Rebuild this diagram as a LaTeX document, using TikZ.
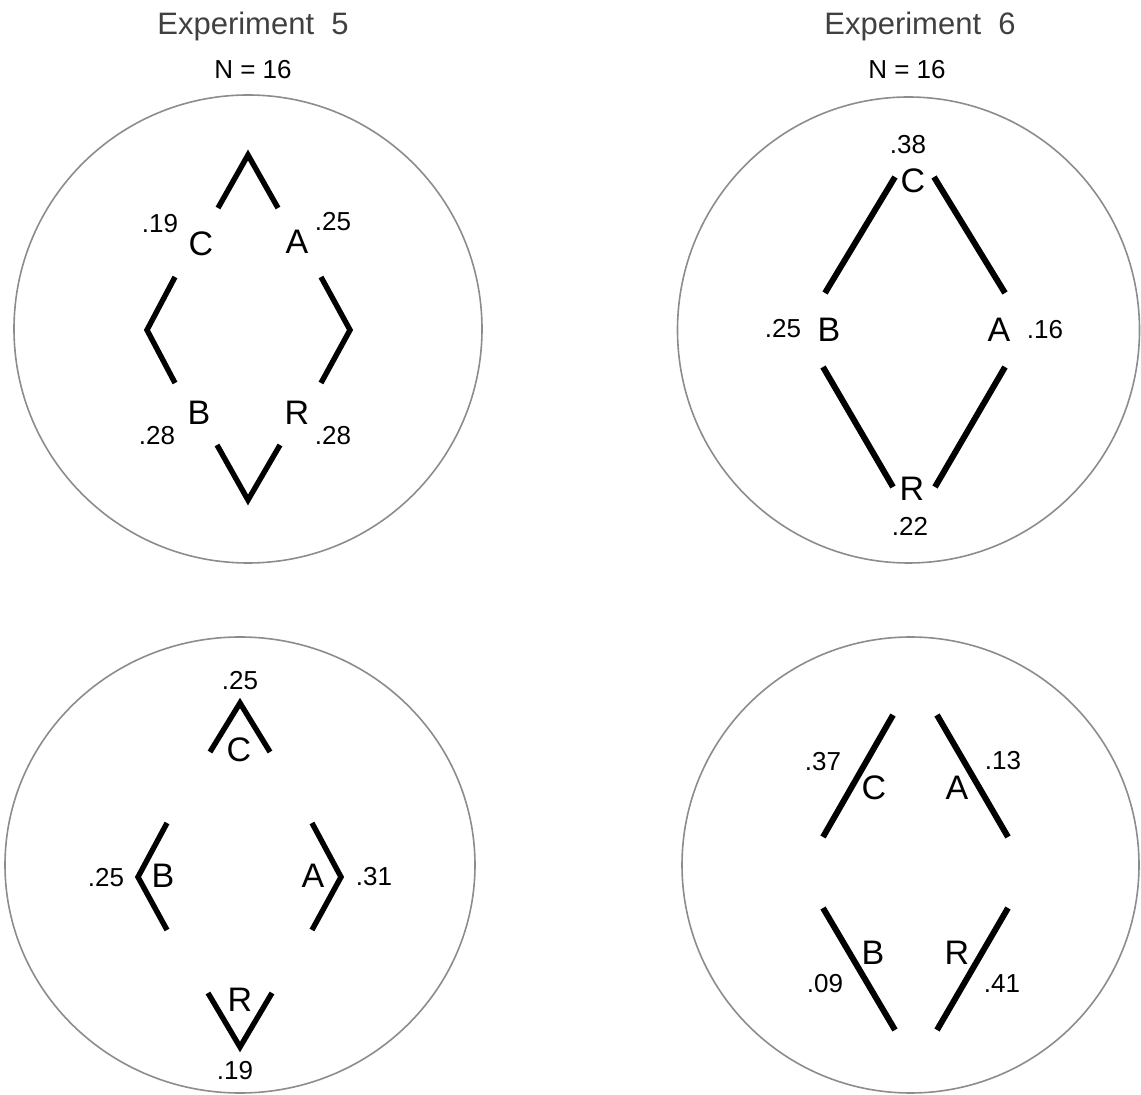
\documentclass[tikz,border=0pt]{standalone}
\usepackage{fontspec}
\setmainfont{Liberation Sans}
\begin{document}
\begin{tikzpicture}[x=0.5pt, y=-0.5pt, line cap=butt,
  rim/.style={draw=black!45, line width=0.8pt},
  bar/.style={line width=2.7pt, line join=miter},
  wide/.style={line width=3pt},
  letter/.style={inner sep=0pt, font=\fontsize{17}{20}\selectfont},
  share/.style={inner sep=0pt, font=\fontsize{13}{15}\selectfont},
  heading/.style={anchor=base, inner sep=0pt, text=black!75, font=\fontsize{15.5}{18}\selectfont}]

\useasboundingbox (0,0) rectangle (1141,1095);

% --- headings ---
\node[heading] (head5) at (253,35) {Experiment\ \ 5};
\node[share] (size5) at (253,70) {N = 16};
\node[heading] (head6) at (920,35) {Experiment\ \ 6};
\node[share] (size6) at (907,70) {N = 16};

% --- Experiment 5, upper disc ---
\draw[rim] (248,329) ellipse [x radius=234, y radius=234];
\draw[bar] (218,208) -- (248,155) -- (278,208);
\draw[bar] (175,277) -- (147,330) -- (175,383);
\draw[bar] (321,277) -- (350,330) -- (321,383);
\draw[bar] (217,445) -- (248,500) -- (280,445);
\node[letter] (c5a) at (201,244) {C};
\node[letter] (a5a) at (297,242) {A};
\node[letter] (b5a) at (199,413) {B};
\node[letter] (r5a) at (297,413) {R};
\node[share] (pc5a) at (160,224) {.19};
\node[share] (pa5a) at (333,222) {.25};
\node[share] (pb5a) at (157,436) {.28};
\node[share] (pr5a) at (333,436) {.28};

% --- Experiment 6, upper disc ---
\draw[rim] (908.5,330) ellipse [x radius=231, y radius=233];
\draw[wide] (895,177) -- (825,293);
\draw[wide] (934,177) -- (1005,293);
\draw[wide] (823,367) -- (893,487);
\draw[wide] (1005,367) -- (935,487);
\node[letter] (c6a) at (913,181) {C};
\node[letter] (b6a) at (829,330) {B};
\node[letter] (a6a) at (999,330) {A};
\node[letter] (r6a) at (912,489) {R};
\node[share] (pc6a) at (908,145) {.38};
\node[share] (pb6a) at (783,329) {.25};
\node[share] (pa6a) at (1045,330) {.16};
\node[share] (pr6a) at (910,526) {.22};

% --- Experiment 5, lower disc ---
\draw[rim] (240,865) ellipse [x radius=235, y radius=228];
\draw[bar] (210,752) -- (240,703) -- (270,752);
\draw[bar] (167,823) -- (138,877) -- (167,930);
\draw[bar] (312,823) -- (341,877) -- (312,930);
\draw[bar] (208,993) -- (240,1047) -- (272,993);
\node[letter] (c5b) at (239,750) {C};
\node[letter] (b5b) at (163,876) {B};
\node[letter] (a5b) at (313,876) {A};
\node[letter] (r5b) at (240,1000) {R};
\node[share] (pc5b) at (240,681) {.25};
\node[share] (pb5b) at (106,878) {.25};
\node[share] (pa5b) at (374,877) {.31};
\node[share] (pr5b) at (235,1071) {.19};

% --- Experiment 6, lower disc ---
\draw[rim] (910.5,865) ellipse [x radius=228.5, y radius=228];
\draw[wide] (893,715) -- (823,837);
\draw[wide] (937,715) -- (1008,837);
\draw[wide] (823,908) -- (895,1030);
\draw[wide] (1008,908) -- (937,1030);
\node[letter] (c6b) at (874,788) {C};
\node[letter] (a6b) at (957,788) {A};
\node[letter] (b6b) at (873,953) {B};
\node[letter] (r6b) at (957,953) {R};
\node[share] (pc6b) at (823,762) {.37};
\node[share] (pa6b) at (1003,761) {.13};
\node[share] (pb6b) at (825,984) {.09};
\node[share] (pr6b) at (1002,984) {.41};

\end{tikzpicture}
\end{document}
